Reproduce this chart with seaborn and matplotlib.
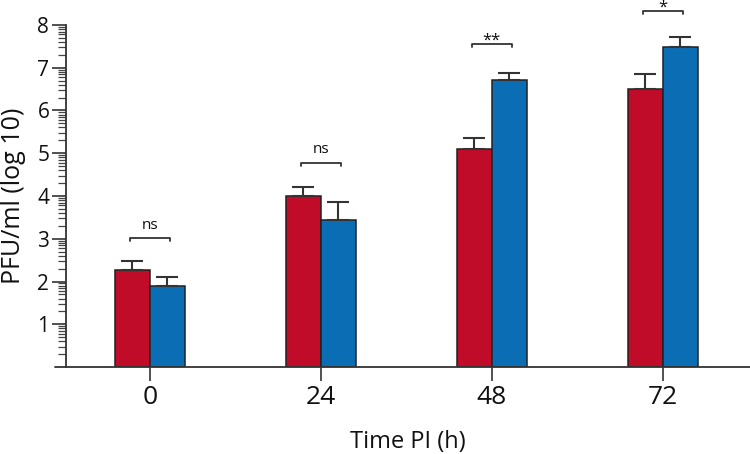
import matplotlib
matplotlib.use("Agg")
import matplotlib.pyplot as plt
import numpy as np
import pandas as pd
import seaborn as sns

# data
times = ["0", "24", "48", "72"]
red_mean = [2.27, 3.99, 5.11, 6.51]
red_err = [0.22, 0.22, 0.25, 0.35]
blue_mean = [1.89, 3.43, 6.72, 7.49]
blue_err = [0.22, 0.42, 0.16, 0.22]
sig_labels = ["ns", "ns", "**", "*"]
sig_levels = [3.01, 4.78, 7.56, 8.32]

red = "#c00b29"
blue = "#0b6db4"

sns.set_style("white")
plt.rcParams["font.family"] = ["Open Sans", "DejaVu Sans"]
plt.rcParams["text.color"] = "#111111"
plt.rcParams["xtick.color"] = "#111111"
plt.rcParams["ytick.color"] = "#111111"
plt.rcParams["axes.labelcolor"] = "#111111"

df = pd.DataFrame({
    "time": times * 2,
    "value": red_mean + blue_mean,
    "group": ["a"] * 4 + ["b"] * 4,
})

fig = plt.figure(figsize=(7.5, 4.54), dpi=100)
ax = fig.add_axes([0.088, 0.1916, 0.912, 0.7534])

sns.barplot(data=df, x="time", y="value", hue="group", order=times,
            palette=[red, blue], saturation=1, width=0.41, edgecolor="#222222",
            linewidth=1.1, errorbar=None, legend=False, ax=ax)

# error bars (upper only)
x = np.arange(len(times))
off = 0.41 / 4
ax.errorbar(x - off, red_mean, yerr=[np.zeros(4), red_err], fmt="none",
            ecolor="#333333", elinewidth=1.5, capsize=8, capthick=1.5, zorder=3)
ax.errorbar(x + off, blue_mean, yerr=[np.zeros(4), blue_err], fmt="none",
            ecolor="#333333", elinewidth=1.5, capsize=8, capthick=1.5, zorder=3)

# significance brackets
for xi, lvl, lab in zip(x, sig_levels, sig_labels):
    x0, x1 = xi - 0.118, xi + 0.118
    ax.plot([x0, x0, x1, x1], [lvl - 0.07, lvl, lvl, lvl - 0.07],
            color="#333333", lw=1.3, clip_on=False)
    if lab == "ns":
        ax.text(xi, lvl + 0.3, lab, ha="center", va="center", fontsize=11,
                clip_on=False)
    else:
        ax.text(xi, lvl - 0.02, lab, ha="center", va="baseline", fontsize=12,
                clip_on=False)

ax.set_xlim(-0.49, 3.51)
ax.set_ylim(0, 8)
ax.set_yticks(range(1, 9))
minor = [n + np.log10(k) for n in range(8) for k in range(2, 10)]
ax.set_yticks(minor, minor=True)

for s in ["top", "right", "bottom"]:
    ax.spines[s].set_visible(False)
ax.spines["left"].set_color("#333333")
ax.spines["left"].set_linewidth(1.3)
ax.plot([-0.016, 1], [0, 0], transform=ax.transAxes, color="#333333",
        lw=1.3, clip_on=False)

ax.tick_params(axis="y", which="major", direction="out", length=10, width=1.2,
               color="#333333", labelsize=15, pad=2, left=True)
ax.tick_params(axis="y", which="minor", direction="out", length=6, width=0.9,
               color="#444444", left=True)
ax.tick_params(axis="x", direction="out", length=10, width=1.2,
               color="#333333", labelsize=19, pad=3, bottom=True)

ax.set_xlabel("Time PI (h)", fontsize=17, labelpad=14)
ax.set_ylabel("PFU/ml (log 10)", fontsize=18, labelpad=8)

fig.savefig("out.png", dpi=100)
